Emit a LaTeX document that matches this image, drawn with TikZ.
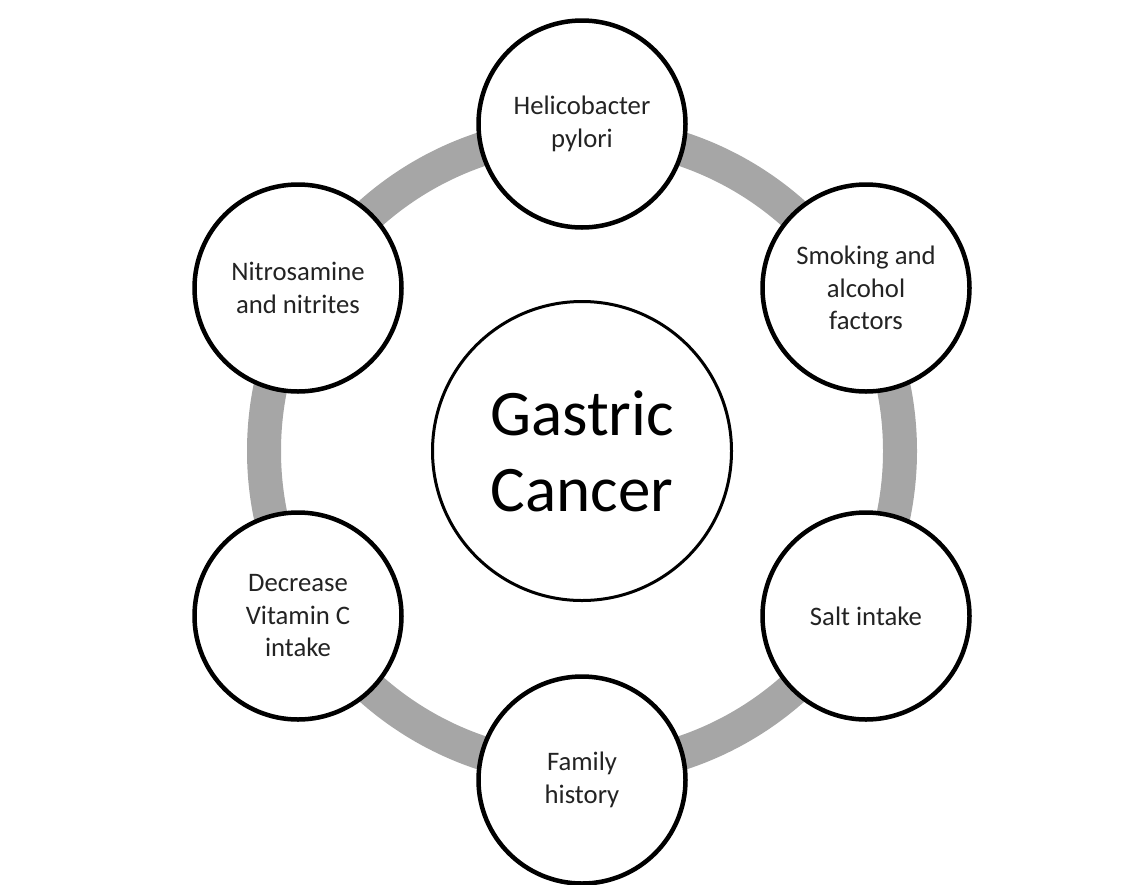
\documentclass[tikz,border=0pt]{standalone}
\usepackage{fontspec}
\setmainfont{Carlito}
\definecolor{ringgray}{RGB}{166,166,166}
\definecolor{txt}{RGB}{35,35,35}
\tikzset{
  factor/.style={circle, draw=black, line width=4.5pt, fill=white, minimum size=207pt,
    inner sep=0pt, align=center, text=txt, font=\fontsize{26.7}{32.5}\selectfont},
  core/.style={circle, draw=black, line width=3pt, fill=white, minimum size=299pt,
    inner sep=0pt, align=center, text=black, font=\fontsize{65}{76}\selectfont},
  ringline/.style={draw=ringgray, line width=34pt}
}
\begin{document}
\begin{tikzpicture}[x=1pt,y=-1pt]
\useasboundingbox (0,0) rectangle (1140,884);
\coordinate (ctr) at (582,451);
\draw[ringline] (ctr) circle (318);
\node[core] (gc) at (ctr) {Gastric\\Cancer};
\node[factor] (hp) at (582,124) {Helicobacter\\pylori};
\node[factor] (sa) at (866,288) {Smoking and\\alcohol\\factors};
\node[factor] (si) at (866,616) {Salt intake};
\node[factor] (fh) at (582,780) {Family\\history};
\node[factor] (vc) at (298,616) {Decrease\\Vitamin C\\intake};
\node[factor] (nn) at (298,288) {Nitrosamine\\and nitrites};
\end{tikzpicture}
\end{document}
